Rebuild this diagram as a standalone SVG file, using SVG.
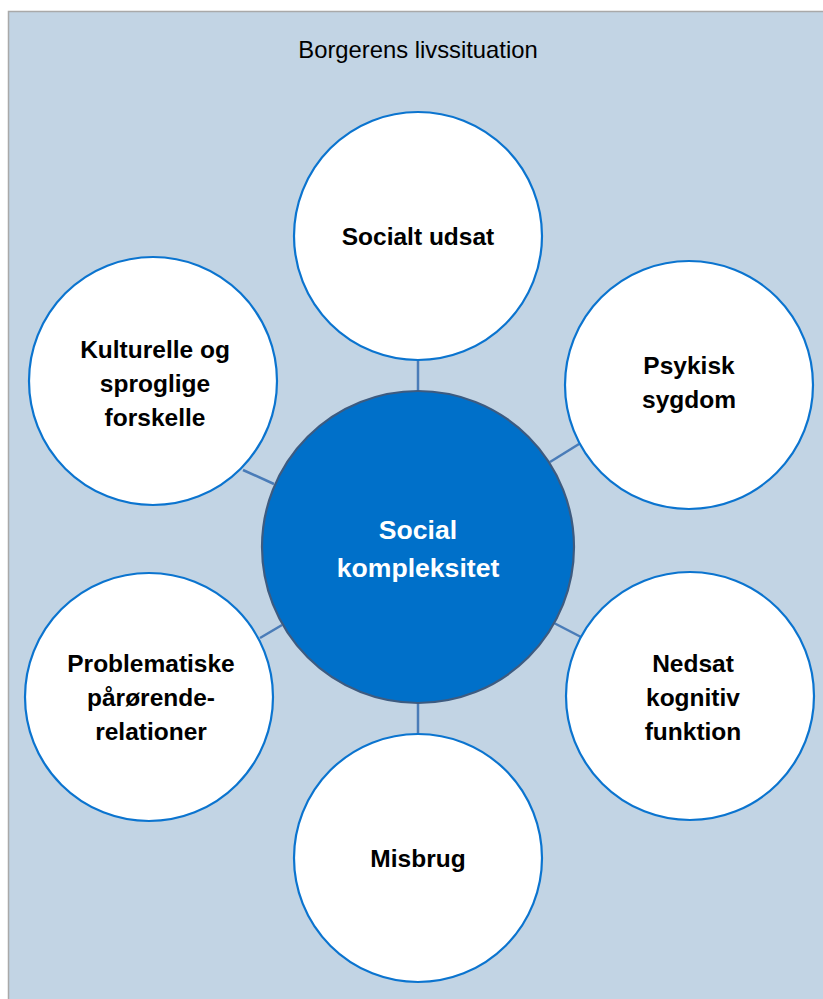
<svg xmlns="http://www.w3.org/2000/svg" width="823" height="999" viewBox="0 0 823 999">
  <style>
    .frame { fill: #c2d4e4; stroke: #a9a9a9; stroke-width: 1.5; }
    .title { font-family: "Liberation Sans", Arial, sans-serif; font-size: 23.8px; fill: #000; text-anchor: middle; }
    .sat { fill: #ffffff; stroke: #0b74cf; stroke-width: 2.2; }
    .hub { fill: #0070c9; stroke: #3d5b80; stroke-width: 2.2; }
    .lbl { font-family: "Liberation Sans", Arial, sans-serif; font-size: 24.5px; font-weight: bold; fill: #000; text-anchor: middle; }
    .hubl { font-family: "Liberation Sans", Arial, sans-serif; font-size: 26.6px; font-weight: bold; fill: #ffffff; text-anchor: middle; }
    .link { stroke: #4a7cb8; stroke-width: 2.5; fill: none; }
  </style>

  <rect class="frame" x="8.5" y="11.5" width="820" height="992"/>
  <text class="title" x="418" y="58">Borgerens livssituation</text>

  <g id="connectors">
    <line class="link" x1="418" y1="360" x2="418" y2="391"/>
    <line class="link" x1="243" y1="470" x2="274" y2="484"/>
    <line class="link" x1="579" y1="444" x2="550" y2="462"/>
    <line class="link" x1="260" y1="638" x2="282" y2="625"/>
    <line class="link" x1="581" y1="637" x2="554" y2="623"/>
    <line class="link" x1="418" y1="703" x2="418" y2="734"/>
  </g>

  <g id="hub">
    <circle class="hub" cx="418" cy="547" r="156"/>
    <text class="hubl" x="418" y="539">Social</text>
    <text class="hubl" x="418" y="577">kompleksitet</text>
  </g>

  <g id="socialt-udsat">
    <circle class="sat" cx="418" cy="236" r="124"/>
    <text class="lbl" x="418" y="245">Socialt udsat</text>
  </g>

  <g id="psykisk-sygdom">
    <circle class="sat" cx="689" cy="385" r="124"/>
    <text class="lbl" x="689" y="374">Psykisk</text>
    <text class="lbl" x="689" y="408">sygdom</text>
  </g>

  <g id="nedsat-kognitiv-funktion">
    <circle class="sat" cx="690" cy="696" r="124"/>
    <text class="lbl" x="693" y="672">Nedsat</text>
    <text class="lbl" x="693" y="706">kognitiv</text>
    <text class="lbl" x="693" y="740">funktion</text>
  </g>

  <g id="misbrug">
    <circle class="sat" cx="418" cy="858" r="124"/>
    <text class="lbl" x="418" y="867">Misbrug</text>
  </g>

  <g id="problematiske-paaroerende">
    <circle class="sat" cx="149" cy="697" r="124"/>
    <text class="lbl" x="151" y="672">Problematiske</text>
    <text class="lbl" x="151" y="706">pårørende-</text>
    <text class="lbl" x="151" y="740">relationer</text>
  </g>

  <g id="kulturelle-sproglige">
    <circle class="sat" cx="153" cy="381" r="124"/>
    <text class="lbl" x="155" y="358">Kulturelle og</text>
    <text class="lbl" x="155" y="392">sproglige</text>
    <text class="lbl" x="155" y="426">forskelle</text>
  </g>
</svg>
